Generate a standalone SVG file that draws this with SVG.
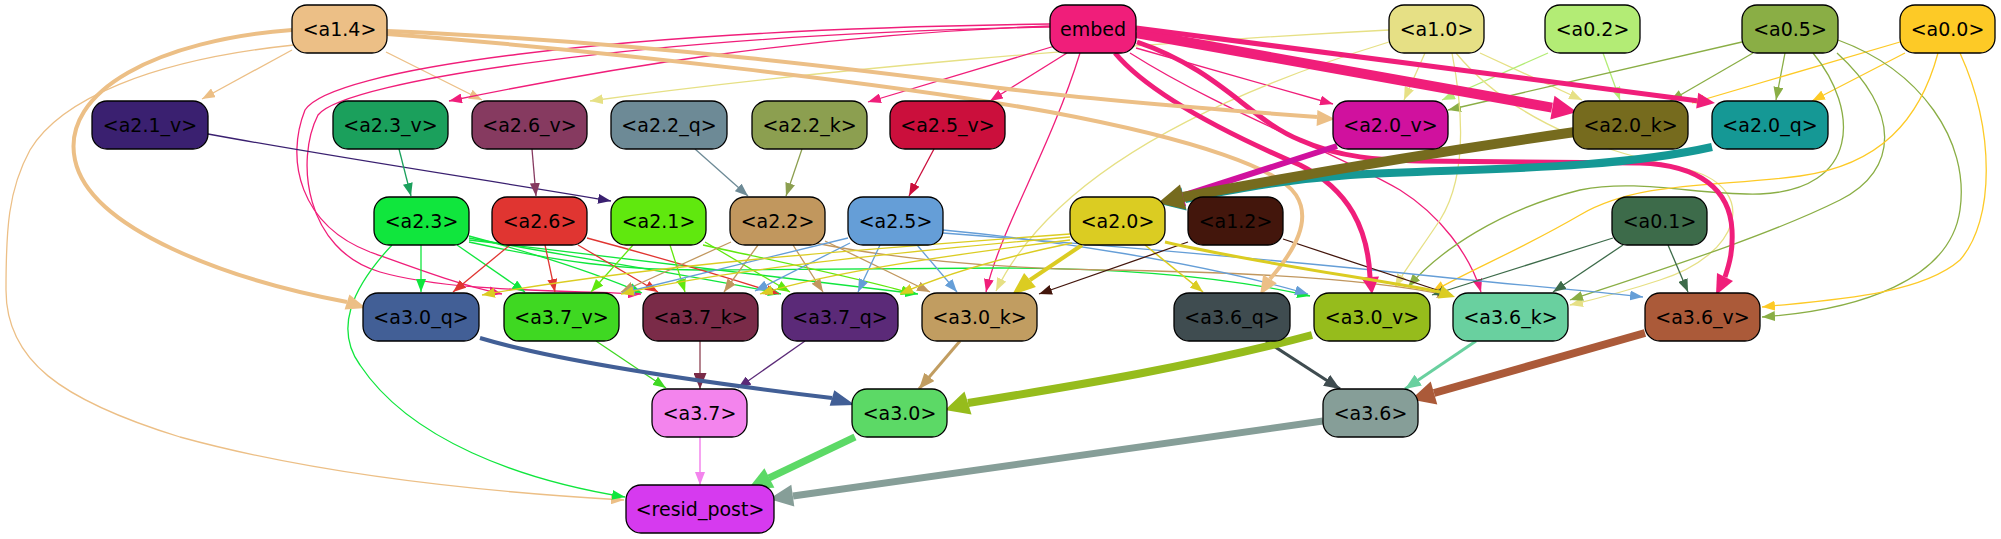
<svg xmlns="http://www.w3.org/2000/svg" width="2001" height="539" viewBox="0 0 2001 539">
<style>
.n rect{stroke:#000;stroke-width:1.3}
.n text{font-family:"DejaVu Sans","Liberation Sans",sans-serif;font-size:19px;text-anchor:middle;fill:#000}
.e path{fill:none}
</style>
<defs>
<marker id="a-ecbf86" viewBox="0 0 13 10" refX="13" refY="5" markerWidth="13" markerHeight="10" markerUnits="userSpaceOnUse" orient="auto"><path d="M0,0L13,5L0,10z" fill="#ecbf86"/></marker>
<marker id="a-f01e7a" viewBox="0 0 13 10" refX="13" refY="5" markerWidth="13" markerHeight="10" markerUnits="userSpaceOnUse" orient="auto"><path d="M0,0L13,5L0,10z" fill="#f01e7a"/></marker>
<marker id="a-e6e085" viewBox="0 0 13 10" refX="13" refY="5" markerWidth="13" markerHeight="10" markerUnits="userSpaceOnUse" orient="auto"><path d="M0,0L13,5L0,10z" fill="#e6e085"/></marker>
<marker id="a-b3ec75" viewBox="0 0 13 10" refX="13" refY="5" markerWidth="13" markerHeight="10" markerUnits="userSpaceOnUse" orient="auto"><path d="M0,0L13,5L0,10z" fill="#b3ec75"/></marker>
<marker id="a-8aae45" viewBox="0 0 13 10" refX="13" refY="5" markerWidth="13" markerHeight="10" markerUnits="userSpaceOnUse" orient="auto"><path d="M0,0L13,5L0,10z" fill="#8aae45"/></marker>
<marker id="a-fdca26" viewBox="0 0 13 10" refX="13" refY="5" markerWidth="13" markerHeight="10" markerUnits="userSpaceOnUse" orient="auto"><path d="M0,0L13,5L0,10z" fill="#fdca26"/></marker>
<marker id="a-3a2070" viewBox="0 0 13 10" refX="13" refY="5" markerWidth="13" markerHeight="10" markerUnits="userSpaceOnUse" orient="auto"><path d="M0,0L13,5L0,10z" fill="#3a2070"/></marker>
<marker id="a-1ba05c" viewBox="0 0 13 10" refX="13" refY="5" markerWidth="13" markerHeight="10" markerUnits="userSpaceOnUse" orient="auto"><path d="M0,0L13,5L0,10z" fill="#1ba05c"/></marker>
<marker id="a-863a60" viewBox="0 0 13 10" refX="13" refY="5" markerWidth="13" markerHeight="10" markerUnits="userSpaceOnUse" orient="auto"><path d="M0,0L13,5L0,10z" fill="#863a60"/></marker>
<marker id="a-6d8a96" viewBox="0 0 13 10" refX="13" refY="5" markerWidth="13" markerHeight="10" markerUnits="userSpaceOnUse" orient="auto"><path d="M0,0L13,5L0,10z" fill="#6d8a96"/></marker>
<marker id="a-8c9f50" viewBox="0 0 13 10" refX="13" refY="5" markerWidth="13" markerHeight="10" markerUnits="userSpaceOnUse" orient="auto"><path d="M0,0L13,5L0,10z" fill="#8c9f50"/></marker>
<marker id="a-cb0f3c" viewBox="0 0 13 10" refX="13" refY="5" markerWidth="13" markerHeight="10" markerUnits="userSpaceOnUse" orient="auto"><path d="M0,0L13,5L0,10z" fill="#cb0f3c"/></marker>
<marker id="a-10e63d" viewBox="0 0 13 10" refX="13" refY="5" markerWidth="13" markerHeight="10" markerUnits="userSpaceOnUse" orient="auto"><path d="M0,0L13,5L0,10z" fill="#10e63d"/></marker>
<marker id="a-e03531" viewBox="0 0 13 10" refX="13" refY="5" markerWidth="13" markerHeight="10" markerUnits="userSpaceOnUse" orient="auto"><path d="M0,0L13,5L0,10z" fill="#e03531"/></marker>
<marker id="a-60e80e" viewBox="0 0 13 10" refX="13" refY="5" markerWidth="13" markerHeight="10" markerUnits="userSpaceOnUse" orient="auto"><path d="M0,0L13,5L0,10z" fill="#60e80e"/></marker>
<marker id="a-c1975e" viewBox="0 0 13 10" refX="13" refY="5" markerWidth="13" markerHeight="10" markerUnits="userSpaceOnUse" orient="auto"><path d="M0,0L13,5L0,10z" fill="#c1975e"/></marker>
<marker id="a-659ed7" viewBox="0 0 13 10" refX="13" refY="5" markerWidth="13" markerHeight="10" markerUnits="userSpaceOnUse" orient="auto"><path d="M0,0L13,5L0,10z" fill="#659ed7"/></marker>
<marker id="a-dbcc22" viewBox="0 0 13 10" refX="13" refY="5" markerWidth="13" markerHeight="10" markerUnits="userSpaceOnUse" orient="auto"><path d="M0,0L13,5L0,10z" fill="#dbcc22"/></marker>
<marker id="a-43160c" viewBox="0 0 13 10" refX="13" refY="5" markerWidth="13" markerHeight="10" markerUnits="userSpaceOnUse" orient="auto"><path d="M0,0L13,5L0,10z" fill="#43160c"/></marker>
<marker id="a-3d6b4a" viewBox="0 0 13 10" refX="13" refY="5" markerWidth="13" markerHeight="10" markerUnits="userSpaceOnUse" orient="auto"><path d="M0,0L13,5L0,10z" fill="#3d6b4a"/></marker>
<marker id="a-5b2a78" viewBox="0 0 13 10" refX="13" refY="5" markerWidth="13" markerHeight="10" markerUnits="userSpaceOnUse" orient="auto"><path d="M0,0L13,5L0,10z" fill="#5b2a78"/></marker>
<marker id="a-3fd822" viewBox="0 0 13 10" refX="13" refY="5" markerWidth="13" markerHeight="10" markerUnits="userSpaceOnUse" orient="auto"><path d="M0,0L13,5L0,10z" fill="#3fd822"/></marker>
<marker id="a-f384ed" viewBox="0 0 13 10" refX="13" refY="5" markerWidth="13" markerHeight="10" markerUnits="userSpaceOnUse" orient="auto"><path d="M0,0L13,5L0,10z" fill="#f384ed"/></marker>
<marker id="m-c19d61" viewBox="0 0 16 13" refX="16" refY="6.5" markerWidth="16" markerHeight="13" markerUnits="userSpaceOnUse" orient="auto"><path d="M0,0L16,6.5L0,13z" fill="#c19d61"/></marker>
<marker id="m-3f4c50" viewBox="0 0 16 13" refX="16" refY="6.5" markerWidth="16" markerHeight="13" markerUnits="userSpaceOnUse" orient="auto"><path d="M0,0L16,6.5L0,13z" fill="#3f4c50"/></marker>
<marker id="m-69d09f" viewBox="0 0 16 13" refX="16" refY="6.5" markerWidth="16" markerHeight="13" markerUnits="userSpaceOnUse" orient="auto"><path d="M0,0L16,6.5L0,13z" fill="#69d09f"/></marker>
<marker id="m-7a2b48" viewBox="0 0 16 13" refX="16" refY="6.5" markerWidth="16" markerHeight="13" markerUnits="userSpaceOnUse" orient="auto"><path d="M0,0L16,6.5L0,13z" fill="#7a2b48"/></marker>
</defs>
<rect width="2001" height="539" fill="#fff"/>
<g id="connectors" class="e" stroke-width="1.3" fill="none">
<path d="M292,50 L202,99" stroke="#ecbf86" marker-end="url(#a-ecbf86)"/>
<path d="M386,52 L482,100" stroke="#ecbf86" marker-end="url(#a-ecbf86)"/>
<path d="M294,45 C150,60 60,100 30,150 C8,190 6,230 6,290 C6,360 60,400 180,437 C300,470 450,490 624,500" stroke="#ecbf86" marker-end="url(#a-ecbf86)"/>
<path d="M1389,30 C1100,45 800,72 590,101" stroke="#e6e085" marker-end="url(#a-e6e085)"/>
<path d="M1050,26 C800,35 600,70 449,101" stroke="#f01e7a" marker-end="url(#a-f01e7a)"/>
<path d="M1058,45 L868,102" stroke="#f01e7a" marker-end="url(#a-f01e7a)"/>
<path d="M1067,53 L990,101" stroke="#f01e7a" marker-end="url(#a-f01e7a)"/>
<path d="M1136,48 L1333,104" stroke="#f01e7a" marker-end="url(#a-f01e7a)"/>
<path d="M1425,53 L1404,100" stroke="#e6e085" marker-end="url(#a-e6e085)"/>
<path d="M1480,53 L1582,100" stroke="#e6e085" marker-end="url(#a-e6e085)"/>
<path d="M1548,53 L1442,100" stroke="#b3ec75" marker-end="url(#a-b3ec75)"/>
<path d="M1603,53 L1620,100" stroke="#b3ec75" marker-end="url(#a-b3ec75)"/>
<path d="M1742,42 L1448,110" stroke="#8aae45" marker-end="url(#a-8aae45)"/>
<path d="M1753,53 L1670,101" stroke="#8aae45" marker-end="url(#a-8aae45)"/>
<path d="M1785,53 L1776,100" stroke="#8aae45" marker-end="url(#a-8aae45)"/>
<path d="M1900,42 L1692,103" stroke="#fdca26" marker-end="url(#a-fdca26)"/>
<path d="M1905,53 L1812,101" stroke="#fdca26" marker-end="url(#a-fdca26)"/>
<path d="M1050,24 C600,30 330,70 305,110 C285,160 300,225 370,252 C420,270 460,285 502,294" stroke="#f01e7a" marker-end="url(#a-f01e7a)"/>
<path d="M1050,27 C650,35 345,80 318,115 C295,160 305,250 380,272 C450,292 560,290 641,294" stroke="#f01e7a" marker-end="url(#a-f01e7a)"/>
<path d="M1080,53 C1050,150 1000,230 986,292" stroke="#f01e7a" marker-end="url(#a-f01e7a)"/>
<path d="M1130,53 C1220,110 1330,150 1400,190 C1440,215 1470,255 1481,292" stroke="#f01e7a" marker-end="url(#a-f01e7a)"/>
<path d="M1389,42 C1200,100 1050,180 996,291" stroke="#e6e085" marker-end="url(#a-e6e085)"/>
<path d="M1452,53 C1465,120 1465,180 1440,220 C1420,250 1405,270 1395,287" stroke="#e6e085" marker-end="url(#a-e6e085)"/>
<path d="M1456,53 C1520,130 1620,155 1690,170 C1760,190 1740,255 1660,280 C1630,290 1600,298 1570,305" stroke="#e6e085" marker-end="url(#a-e6e085)"/>
<path d="M1813,53 C1860,110 1860,190 1760,194 C1700,196 1640,178 1580,190 C1500,210 1440,250 1408,287" stroke="#8aae45" marker-end="url(#a-8aae45)"/>
<path d="M1837,53 C1900,110 1900,170 1840,200 C1770,235 1660,270 1570,300" stroke="#8aae45" marker-end="url(#a-8aae45)"/>
<path d="M1838,40 C1920,70 1970,140 1960,210 C1950,280 1860,310 1762,317" stroke="#8aae45" marker-end="url(#a-8aae45)"/>
<path d="M1938,53 C1920,120 1880,165 1800,176 C1720,187 1640,180 1580,215 C1520,250 1470,270 1432,292" stroke="#fdca26" marker-end="url(#a-fdca26)"/>
<path d="M1960,53 C1995,130 1995,220 1960,260 C1920,295 1830,300 1762,307" stroke="#fdca26" marker-end="url(#a-fdca26)"/>
<path d="M208,134 C350,160 500,182 611,201" stroke="#3a2070" marker-end="url(#a-3a2070)"/>
<path d="M399,149 L411,196" stroke="#1ba05c" marker-end="url(#a-1ba05c)"/>
<path d="M532,149 L536,196" stroke="#863a60" marker-end="url(#a-863a60)"/>
<path d="M695,149 L748,196" stroke="#6d8a96" marker-end="url(#a-6d8a96)"/>
<path d="M802,149 L786,196" stroke="#8c9f50" marker-end="url(#a-8c9f50)"/>
<path d="M934,149 L909,196" stroke="#cb0f3c" marker-end="url(#a-cb0f3c)"/>
<path d="M421,245 L421,292" stroke="#10e63d" marker-end="url(#a-10e63d)"/>
<path d="M457,245 L525,292" stroke="#10e63d" marker-end="url(#a-10e63d)"/>
<path d="M469,236 C540,255 600,275 642,293" stroke="#10e63d" marker-end="url(#a-10e63d)"/>
<path d="M469,238 C600,262 720,280 781,294" stroke="#10e63d" marker-end="url(#a-10e63d)"/>
<path d="M469,240 C650,262 830,282 918,294" stroke="#10e63d" marker-end="url(#a-10e63d)"/>
<path d="M469,242 C560,262 620,270 700,270 L1000,268 C1150,268 1250,282 1310,296" stroke="#10e63d" marker-end="url(#a-10e63d)"/>
<path d="M392,245 C350,290 335,330 360,365 C410,440 520,480 625,497" stroke="#10e63d" marker-end="url(#a-10e63d)"/>
<path d="M510,245 L453,292" stroke="#e03531" marker-end="url(#a-e03531)"/>
<path d="M545,245 L555,292" stroke="#e03531" marker-end="url(#a-e03531)"/>
<path d="M578,245 L658,292" stroke="#e03531" marker-end="url(#a-e03531)"/>
<path d="M587,238 C650,255 720,275 779,294" stroke="#e03531" marker-end="url(#a-e03531)"/>
<path d="M633,245 L591,292" stroke="#60e80e" marker-end="url(#a-60e80e)"/>
<path d="M670,245 L685,292" stroke="#60e80e" marker-end="url(#a-60e80e)"/>
<path d="M705,242 L790,292" stroke="#60e80e" marker-end="url(#a-60e80e)"/>
<path d="M703,245 C780,262 860,278 914,294" stroke="#60e80e" marker-end="url(#a-60e80e)"/>
<path d="M731,242 L621,292" stroke="#c1975e" marker-end="url(#a-c1975e)"/>
<path d="M758,245 L724,292" stroke="#c1975e" marker-end="url(#a-c1975e)"/>
<path d="M793,245 L823,292" stroke="#c1975e" marker-end="url(#a-c1975e)"/>
<path d="M825,241 L930,292" stroke="#c1975e" marker-end="url(#a-c1975e)"/>
<path d="M815,243 C900,260 1000,268 1100,270 C1250,272 1380,280 1450,296" stroke="#c1975e" marker-end="url(#a-c1975e)"/>
<path d="M848,238 L622,293" stroke="#659ed7" marker-end="url(#a-659ed7)"/>
<path d="M850,243 L755,291" stroke="#659ed7" marker-end="url(#a-659ed7)"/>
<path d="M880,245 L858,292" stroke="#659ed7" marker-end="url(#a-659ed7)"/>
<path d="M917,245 L957,292" stroke="#659ed7" marker-end="url(#a-659ed7)"/>
<path d="M943,230 C1050,240 1200,262 1308,294" stroke="#659ed7" marker-end="url(#a-659ed7)"/>
<path d="M943,233 C1100,245 1300,262 1450,278 C1550,288 1600,292 1643,297" stroke="#659ed7" marker-end="url(#a-659ed7)"/>
<path d="M1070,234 C850,250 650,265 482,295" stroke="#dbcc22" marker-end="url(#a-dbcc22)"/>
<path d="M1070,237 C900,252 720,270 621,294" stroke="#dbcc22" marker-end="url(#a-dbcc22)"/>
<path d="M1070,240 C950,255 830,272 760,294" stroke="#dbcc22" marker-end="url(#a-dbcc22)"/>
<path d="M1072,243 C1000,258 940,276 900,294" stroke="#dbcc22" marker-end="url(#a-dbcc22)"/>
<path d="M1145,245 L1203,292" stroke="#dbcc22" stroke-width="1.6" marker-end="url(#a-dbcc22)"/>
<path d="M1188,242 L1039,294" stroke="#43160c" marker-end="url(#a-43160c)"/>
<path d="M1283,239 L1452,295" stroke="#43160c" marker-end="url(#a-43160c)"/>
<path d="M1613,238 L1432,295" stroke="#3d6b4a" marker-end="url(#a-3d6b4a)"/>
<path d="M1623,245 L1553,292" stroke="#3d6b4a" marker-end="url(#a-3d6b4a)"/>
<path d="M1668,245 L1688,292" stroke="#3d6b4a" marker-end="url(#a-3d6b4a)"/>
<path d="M596,341 L666,388" stroke="#3fd822" marker-end="url(#a-3fd822)"/>
<path d="M700,341 L700,389" stroke="#b5848f" stroke-width="2" marker-end="url(#m-7a2b48)"/>
<path d="M805,341 L738,388" stroke="#5b2a78" marker-end="url(#a-5b2a78)"/>
<path d="M960,341 L919,389" stroke="#c19d61" stroke-width="3" marker-end="url(#m-c19d61)"/>
<path d="M1266,341 L1340,389" stroke="#3f4c50" stroke-width="3" marker-end="url(#m-3f4c50)"/>
<path d="M1476,341 L1405,389" stroke="#69d09f" stroke-width="3" marker-end="url(#m-69d09f)"/>
<path d="M700,437 L700,485" stroke="#f384ed" stroke-width="1.5" marker-end="url(#a-f384ed)"/>
<path d="M1136,33 L1552,107.6" stroke="#f01e7a" stroke-width="10"/>
<polygon points="1577,112 1550.3,119.4 1554.5,95.8" fill="#f01e7a"/>
<path d="M1136,28 L1697,100.7" stroke="#f01e7a" stroke-width="5"/>
<polygon points="1715,103 1696.2,108.6 1698.2,92.8" fill="#f01e7a"/>
<path d="M1115,53 C1150,95 1230,135 1300,165 C1350,190 1368,230 1370,277" stroke="#f01e7a" stroke-width="5"/>
<polygon points="1372,294 1361,277.5 1379,276.5" fill="#f01e7a"/>
<path d="M1137,42 C1220,70 1250,120 1300,140 C1340,158 1380,160 1420,161 L1640,163 C1700,165 1730,190 1732,230 C1733,250 1730,262 1725,277" stroke="#f01e7a" stroke-width="5"/>
<polygon points="1716,295 1733,281 1717,273" fill="#f01e7a"/>
<path d="M387,31 C650,42 900,75 1000,88 S1250,112 1317,117" stroke="#ecbf86" stroke-width="4"/>
<polygon points="1335,119 1317.4,110 1316.6,126" fill="#ecbf86"/>
<path d="M387,34 C600,50 900,85 1050,112 C1200,140 1280,170 1296,195 C1312,220 1295,250 1270,279" stroke="#ecbf86" stroke-width="4"/>
<polygon points="1260,295 1276.8,283.2 1263.2,274.8" fill="#ecbf86"/>
<path d="M292,30 C160,40 60,90 75,160 C90,230 230,280 347,302" stroke="#ecbf86" stroke-width="4"/>
<polygon points="366,308 344.6,309.6 349.4,294.4" fill="#ecbf86"/>
<path d="M1712,147 C1600,172 1450,168 1350,175 C1280,180 1230,190 1185,199" stroke="#159895" stroke-width="8"/>
<polygon points="1160,204 1186.6,210.6 1181.4,187.4" fill="#159895"/>
<path d="M1337,146 L1183,195.7" stroke="#d0119e" stroke-width="6"/>
<polygon points="1161,202.7 1186.2,206.2 1179.6,185.2" fill="#d0119e"/>
<path d="M1575,132 C1450,150 1300,175 1183,197" stroke="#766b1e" stroke-width="10"/>
<polygon points="1158,203 1186,209.6 1180,184.4" fill="#766b1e"/>
<path d="M1082,245 L1030,280" stroke="#dbcc22" stroke-width="4"/>
<polygon points="1012,295 1035.9,287 1024.1,273" fill="#dbcc22"/>
<path d="M1165,242 C1250,262 1380,280 1440,292" stroke="#dbcc22" stroke-width="3"/>
<polygon points="1455,297 1437.8,298.6 1442.2,285.4" fill="#dbcc22"/>
<path d="M480,338 C560,362 700,382 832,398" stroke="#425f96" stroke-width="4"/>
<polygon points="855,405 829.7,405.7 834.3,390.3" fill="#425f96"/>
<path d="M1312,335 C1200,365 1080,385 968,403" stroke="#96bc1c" stroke-width="8"/>
<polygon points="945,410 971.5,414.5 964.5,391.5" fill="#96bc1c"/>
<path d="M1645,333 L1434,393" stroke="#ab5a39" stroke-width="8"/>
<polygon points="1411,399.6 1437.3,404.6 1430.7,381.4" fill="#ab5a39"/>
<path d="M855,437 L769,478" stroke="#5cd966" stroke-width="7"/>
<polygon points="748,489 774.4,487.8 764.4,468.2" fill="#5cd966"/>
<path d="M1323,421 L793,496" stroke="#869e98" stroke-width="7"/>
<polygon points="769,499 794.3,506.5 791.3,484.7" fill="#869e98"/>
</g>
<g id="n-a1.4" class="n"><rect x="292" y="5" width="95" height="48" rx="15" fill="#ecbf86"/><text x="339.5" y="36">&lt;a1.4&gt;</text></g>
<g id="n-embed" class="n"><rect x="1050" y="5" width="86" height="48" rx="15" fill="#f01e7a"/><text x="1093" y="36">embed</text></g>
<g id="n-a1.0" class="n"><rect x="1389" y="5" width="95" height="48" rx="15" fill="#e6e085"/><text x="1436.5" y="36">&lt;a1.0&gt;</text></g>
<g id="n-a0.2" class="n"><rect x="1545" y="5" width="95" height="48" rx="15" fill="#b3ec75"/><text x="1592.5" y="36">&lt;a0.2&gt;</text></g>
<g id="n-a0.5" class="n"><rect x="1742" y="5" width="96" height="48" rx="15" fill="#8aae45"/><text x="1790" y="36">&lt;a0.5&gt;</text></g>
<g id="n-a0.0" class="n"><rect x="1900" y="5" width="95" height="48" rx="15" fill="#fdca26"/><text x="1947.5" y="36">&lt;a0.0&gt;</text></g>
<g id="n-a2.1_v" class="n"><rect x="92" y="101" width="116" height="48" rx="15" fill="#3a2070"/><text x="150" y="132">&lt;a2.1_v&gt;</text></g>
<g id="n-a2.3_v" class="n"><rect x="333" y="101" width="115" height="48" rx="15" fill="#1ba05c"/><text x="390.5" y="132">&lt;a2.3_v&gt;</text></g>
<g id="n-a2.6_v" class="n"><rect x="472" y="101" width="115" height="48" rx="15" fill="#863a60"/><text x="529.5" y="132">&lt;a2.6_v&gt;</text></g>
<g id="n-a2.2_q" class="n"><rect x="611" y="101" width="116" height="48" rx="15" fill="#6d8a96"/><text x="669" y="132">&lt;a2.2_q&gt;</text></g>
<g id="n-a2.2_k" class="n"><rect x="752" y="101" width="115" height="48" rx="15" fill="#8c9f50"/><text x="809.5" y="132">&lt;a2.2_k&gt;</text></g>
<g id="n-a2.5_v" class="n"><rect x="890" y="101" width="115" height="48" rx="15" fill="#cb0f3c"/><text x="947.5" y="132">&lt;a2.5_v&gt;</text></g>
<g id="n-a2.0_v" class="n"><rect x="1333" y="101" width="115" height="48" rx="15" fill="#d0119e"/><text x="1390.5" y="132">&lt;a2.0_v&gt;</text></g>
<g id="n-a2.0_k" class="n"><rect x="1573" y="101" width="115" height="48" rx="15" fill="#766b1e"/><text x="1630.5" y="132">&lt;a2.0_k&gt;</text></g>
<g id="n-a2.0_q" class="n"><rect x="1712" y="101" width="116" height="48" rx="15" fill="#159895"/><text x="1770" y="132">&lt;a2.0_q&gt;</text></g>
<g id="n-a2.3" class="n"><rect x="374" y="197" width="95" height="48" rx="15" fill="#10e63d"/><text x="421.5" y="228">&lt;a2.3&gt;</text></g>
<g id="n-a2.6" class="n"><rect x="492" y="197" width="95" height="48" rx="15" fill="#e03531"/><text x="539.5" y="228">&lt;a2.6&gt;</text></g>
<g id="n-a2.1" class="n"><rect x="611" y="197" width="95" height="48" rx="15" fill="#60e80e"/><text x="658.5" y="228">&lt;a2.1&gt;</text></g>
<g id="n-a2.2" class="n"><rect x="730" y="197" width="95" height="48" rx="15" fill="#c1975e"/><text x="777.5" y="228">&lt;a2.2&gt;</text></g>
<g id="n-a2.5" class="n"><rect x="848" y="197" width="95" height="48" rx="15" fill="#659ed7"/><text x="895.5" y="228">&lt;a2.5&gt;</text></g>
<g id="n-a2.0" class="n"><rect x="1070" y="197" width="95" height="48" rx="15" fill="#dbcc22"/><text x="1117.5" y="228">&lt;a2.0&gt;</text></g>
<g id="n-a1.2" class="n"><rect x="1188" y="197" width="95" height="48" rx="15" fill="#43160c"/><text x="1235.5" y="228">&lt;a1.2&gt;</text></g>
<g id="n-a0.1" class="n"><rect x="1612" y="197" width="95" height="48" rx="15" fill="#3d6b4a"/><text x="1659.5" y="228">&lt;a0.1&gt;</text></g>
<g id="n-a3.0_q" class="n"><rect x="363" y="293" width="116" height="48" rx="15" fill="#425f96"/><text x="421" y="324">&lt;a3.0_q&gt;</text></g>
<g id="n-a3.7_v" class="n"><rect x="504" y="293" width="115" height="48" rx="15" fill="#3fd822"/><text x="561.5" y="324">&lt;a3.7_v&gt;</text></g>
<g id="n-a3.7_k" class="n"><rect x="643" y="293" width="115" height="48" rx="15" fill="#7a2b48"/><text x="700.5" y="324">&lt;a3.7_k&gt;</text></g>
<g id="n-a3.7_q" class="n"><rect x="782" y="293" width="116" height="48" rx="15" fill="#5b2a78"/><text x="840" y="324">&lt;a3.7_q&gt;</text></g>
<g id="n-a3.0_k" class="n"><rect x="922" y="293" width="115" height="48" rx="15" fill="#c19d61"/><text x="979.5" y="324">&lt;a3.0_k&gt;</text></g>
<g id="n-a3.6_q" class="n"><rect x="1174" y="293" width="116" height="48" rx="15" fill="#3f4c50"/><text x="1232" y="324">&lt;a3.6_q&gt;</text></g>
<g id="n-a3.0_v" class="n"><rect x="1314" y="293" width="116" height="48" rx="15" fill="#96bc1c"/><text x="1372" y="324">&lt;a3.0_v&gt;</text></g>
<g id="n-a3.6_k" class="n"><rect x="1453" y="293" width="115" height="48" rx="15" fill="#69d09f"/><text x="1510.5" y="324">&lt;a3.6_k&gt;</text></g>
<g id="n-a3.6_v" class="n"><rect x="1645" y="293" width="115" height="48" rx="15" fill="#ab5a39"/><text x="1702.5" y="324">&lt;a3.6_v&gt;</text></g>
<g id="n-a3.7" class="n"><rect x="652" y="389" width="95" height="48" rx="15" fill="#f384ed"/><text x="699.5" y="420">&lt;a3.7&gt;</text></g>
<g id="n-a3.0" class="n"><rect x="852" y="389" width="95" height="48" rx="15" fill="#5cd966"/><text x="899.5" y="420">&lt;a3.0&gt;</text></g>
<g id="n-a3.6" class="n"><rect x="1323" y="389" width="95" height="48" rx="15" fill="#869e98"/><text x="1370.5" y="420">&lt;a3.6&gt;</text></g>
<g id="n-resid_post" class="n"><rect x="626" y="485" width="148" height="48" rx="15" fill="#d63aef"/><text x="700" y="516">&lt;resid_post&gt;</text></g>
</svg>
